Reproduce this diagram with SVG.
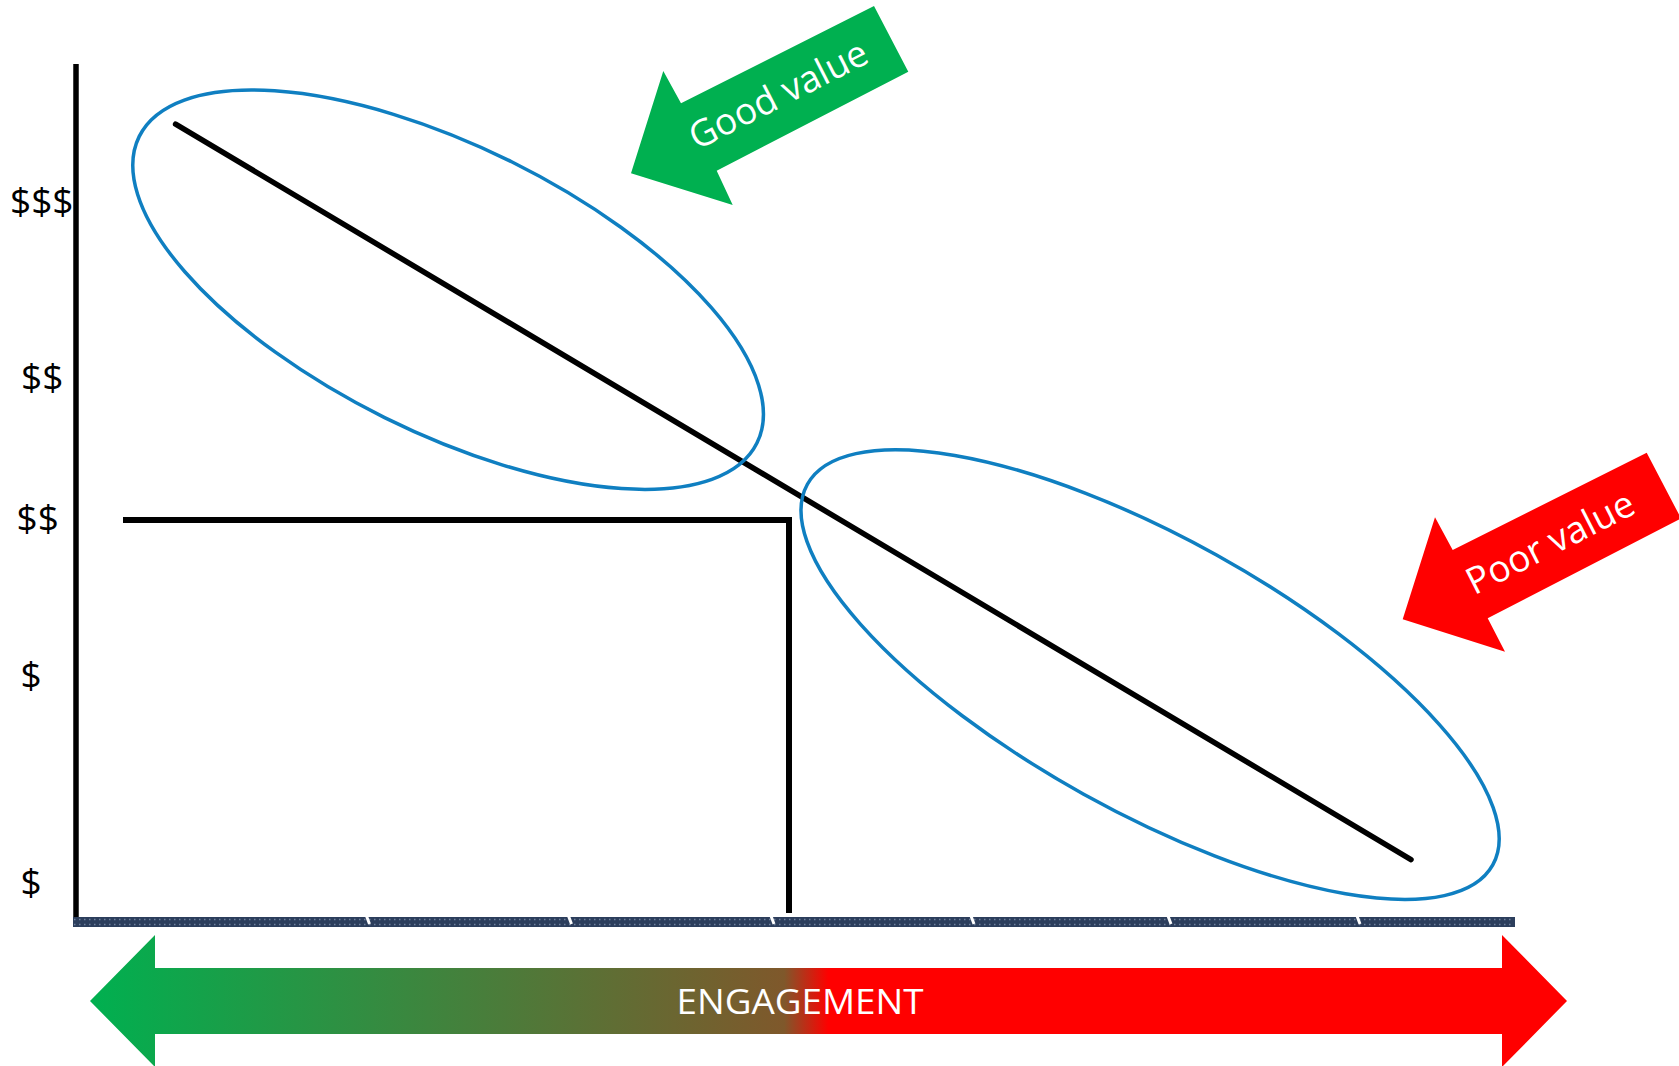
<svg xmlns="http://www.w3.org/2000/svg" width="1679" height="1066" viewBox="0 0 1679 1066">
  <style>
    .axis { stroke: #000; stroke-width: 5.5; fill: none; }
    .line { stroke: #000; stroke-width: 5.5; fill: none; stroke-linecap: round; }
    .step { stroke: #000; stroke-width: 6; fill: none; }
    .oval { stroke: #0f7fc1; stroke-width: 3.5; fill: none; }
    .tick { stroke: #fff; stroke-width: 3; }
    .dots { stroke: #6f819d; stroke-width: 1.5; stroke-dasharray: 1.5 3.5; }
    .ylab { font-family: "Open Sans", "Noto Sans", sans-serif; font-size: 37px; fill: #000; }
    .alab { font-family: "Open Sans", "Noto Sans", sans-serif; font-size: 37px; fill: #fff; }
    .elab { font-family: "Open Sans", "Noto Sans", sans-serif; font-size: 35px; fill: #fff; }
  </style>
  <defs>
    <linearGradient id="eng" gradientUnits="userSpaceOnUse" x1="90" y1="0" x2="1567" y2="0">
      <stop offset="0" stop-color="#00b050"/>
      <stop offset="0.47" stop-color="#7f582b"/>
      <stop offset="0.5" stop-color="#ff0000"/>
      <stop offset="1" stop-color="#ff0000"/>
    </linearGradient>
  </defs>

  <rect x="0" y="0" width="1679" height="1066" fill="#fff"/>

  <g id="y-axis">
    <line class="axis" x1="76" y1="64" x2="76" y2="918"/>
  </g>

  <g id="y-labels">
    <text class="ylab" x="10" y="214">$$$</text>
    <text class="ylab" x="21" y="390">$$</text>
    <text class="ylab" x="16.5" y="531">$$</text>
    <text class="ylab" x="20.5" y="688">$</text>
    <text class="ylab" x="20.5" y="895">$</text>
  </g>

  <g id="x-axis">
    <rect x="73" y="917" width="1442" height="10" fill="#2c3e5c"/>
    <line class="dots" x1="74" y1="919.5" x2="1514" y2="919.5"/>
    <line class="dots" x1="74" y1="924.5" x2="1514" y2="924.5"/>
    <line class="tick" x1="366.5" y1="916" x2="369.5" y2="924"/>
    <line class="tick" x1="568.5" y1="916" x2="571.5" y2="924"/>
    <line class="tick" x1="771" y1="916" x2="774" y2="924"/>
    <line class="tick" x1="971" y1="916" x2="974" y2="924"/>
    <line class="tick" x1="1168" y1="916" x2="1171" y2="924"/>
    <line class="tick" x1="1357" y1="916" x2="1360" y2="924"/>
  </g>

  <g id="connectors">
    <line id="trend-line" class="line" x1="175.6" y1="124.2" x2="1411" y2="859.6"/>
    <polyline id="threshold" class="step" points="123,520 789,520 789,913"/>
  </g>

  <g id="ellipse-good">
    <ellipse class="oval" cx="448.1" cy="289.7" rx="344.8" ry="142.8" transform="rotate(26.4 448.1 289.7)"/>
  </g>

  <g id="ellipse-poor">
    <ellipse class="oval" cx="1150.1" cy="674.6" rx="392" ry="136.8" transform="rotate(29.05 1150.1 674.6)"/>
  </g>

  <g id="arrow-good">
    <polygon fill="#00b050" points="874,6 908.3,71.7 716.7,170.7 732.7,205 631,173.3 663.3,71 681,103.3"/>
    <text class="alab" text-anchor="middle" transform="translate(784,106) rotate(-27)">Good value</text>
  </g>

  <g id="arrow-poor">
    <polygon fill="#ff0000" points="1646.7,452.7 1681,518.4 1487.7,618.3 1505,651.7 1402.7,619.3 1435,517.3 1452.7,550"/>
    <text class="alab" text-anchor="middle" transform="translate(1556,554) rotate(-27)">Poor value</text>
  </g>

  <g id="engagement-arrow">
    <polygon fill="url(#eng)" points="90,1001 155,935 155,968 1502,968 1502,935 1567,1001 1502,1067 1502,1034 155,1034 155,1067"/>
    <text class="elab" x="800" y="1014" text-anchor="middle" textLength="247" lengthAdjust="spacingAndGlyphs">ENGAGEMENT</text>
  </g>
</svg>
